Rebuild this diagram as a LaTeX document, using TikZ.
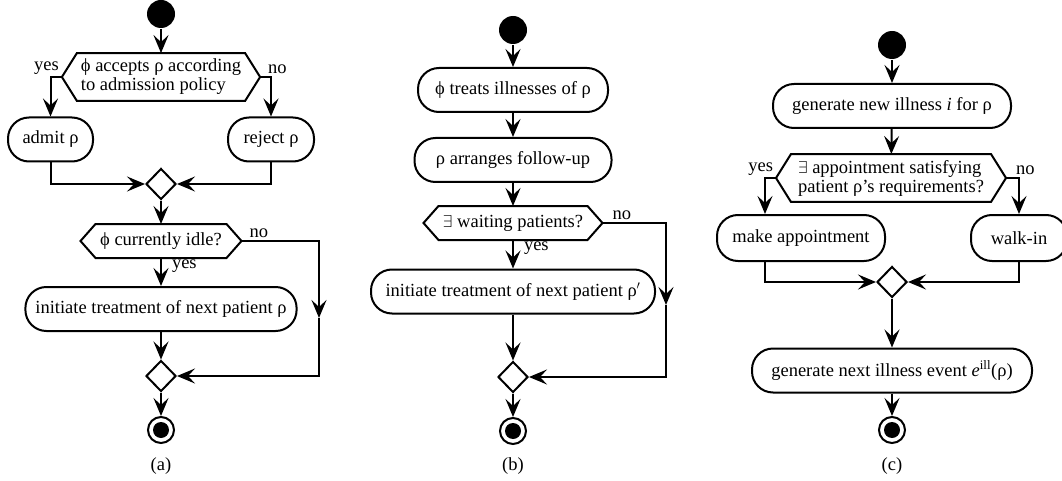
\documentclass[tikz,border=0pt]{standalone}
\usepackage{fontspec}
\setmainfont{Liberation Serif}
\usetikzlibrary{shapes.geometric,arrows.meta}

\tikzset{
    action/.style={rectangle, draw, rounded corners=21pt, minimum height=44pt, inner xsep=10pt},
    choice/.style={rectangle, align=left, minimum height=32pt, inner xsep=18pt, inner ysep=5pt},
    merge/.style={diamond, draw, minimum width=30pt, minimum height=31pt, inner sep=0pt},
    initial/.style={circle, fill, minimum size=28pt, inner sep=0pt},
    final/.style={circle, draw, minimum size=26pt, inner sep=0pt,
        path picture={\fill (path picture bounding box.center) circle (8pt);}},
    lbl/.style={inner sep=2pt},
}
\newcommand{\hexframe}[1]{\draw (#1.west) -- ([xshift=15pt]#1.north west) -- ([xshift=-15pt]#1.north east) -- (#1.east) -- ([xshift=-15pt]#1.south east) -- ([xshift=15pt]#1.south west) -- cycle;}

\begin{document}
\begin{tikzpicture}[x=1pt, y=-1pt, line width=2pt, >={Stealth[length=18pt, width=15pt, inset=7pt]}, font=\fontsize{18.5}{19}\selectfont]
    \useasboundingbox (0,0) rectangle (1062,481);

    \node[initial] (a0) at (161,14) {};
    \node[choice, minimum width=195pt] (a1) at (161,77) {ϕ accepts ρ according\\to admission policy};
    \hexframe{a1}
    \node[action, minimum width=85pt] (a2) at (50.5,139.5) {admit ρ};
    \node[action, minimum width=86pt] (a3) at (271,139.5) {reject ρ};
    \node[merge] (a4) at (161,184) {};
    \node[choice, minimum width=159pt] (a5) at (161,241) {ϕ currently idle?};
    \hexframe{a5}
    \node[action, minimum width=271pt] (a6) at (161,309) {initiate treatment of next patient ρ};
    \node[merge] (a7) at (161,376) {};
    \node[final] (a8) at (161,430) {};
    \coordinate (a9) at (319,318);
    \node (capa) at (161,466) {(a)};
    \draw[->] (a0) -- (a1);
    \draw[->] (a1.west) -| (a2.north) node[lbl, pos=0, above left] {yes};
    \draw[->] (a1.east) -| (a3.north) node[lbl, pos=0, above right, xshift=5pt] {no};
    \draw[->] (a2.south) |- (a4.west);
    \draw[->] (a3.south) |- (a4.east);
    \draw[->] (a4) -- (a5);
    \draw[->] (a5) -- (a6) node[lbl, pos=0.3, right=8pt] {yes};
    \draw[->] (a5.east) -| (a9) node[lbl, pos=0, above right, xshift=5pt] {no};
    \draw[->] (a9) |- (a7.east);
    \draw[->] (a6) -- (a7);
    \draw[->] (a7) -- (a8);

    \node[initial] (b0) at (513,30) {};
    \node[action, minimum width=190pt] (b1) at (513,90) {ϕ treats illnesses of ρ};
    \node[action, minimum width=197pt] (b2) at (513,160) {ρ arranges follow-up};
    \node[choice, minimum width=177pt] (b3) at (513,223) {$\exists$ waiting patients?};
    \hexframe{b3}
    \node[action, minimum width=284pt] (b4) at (513,291.5) {initiate treatment of next patient ρ$'$};
    \node[merge] (b5) at (513,377) {};
    \node[final] (b6) at (513,431) {};
    \coordinate (b9) at (666,305);
    \node (capb) at (513,466) {(b)};
    \draw[->] (b0) -- (b1);
    \draw[->] (b1) -- (b2);
    \draw[->] (b2) -- (b3);
    \draw[->] (b3) -- (b4) node[lbl, pos=0.3, right=8pt] {yes};
    \draw[->] (b3.east) -| (b9) node[lbl, pos=0, above right, xshift=7pt] {no};
    \draw[->] (b9) |- (b5.east);
    \draw[->] (b4) -- (b5);
    \draw[->] (b5) -- (b6);

    \node[initial] (c0) at (892,45) {};
    \node[action, minimum width=238pt] (c1) at (892,106) {generate new illness \textit{i} for ρ};
    \node[choice, minimum width=228pt] (c2) at (891,178) {$\exists$ appointment satisfying\\patient ρ’s requirements?};
    \hexframe{c2}
    \node[action, minimum width=168pt, minimum height=46pt] (c3) at (801,238) {make appointment};
    \node[action, minimum width=96pt, minimum height=46pt] (c4) at (1019,238) {walk-in};
    \node[merge] (c5) at (892,282) {};
    \node[action, minimum width=280pt] (c6) at (892,370.5) {generate next illness event \textit{e}\textsuperscript{ill}(ρ)};
    \node[final] (c7) at (892,430) {};
    \node (capc) at (892,466) {(c)};
    \draw[->] (c0) -- (c1);
    \draw[->] (c1) -- (c2);
    \draw[->] (c2.west) -| ([xshift=-36pt]c3.north) node[lbl, pos=0, above left] {yes};
    \draw[->] (c2.east) -| (c4.north) node[lbl, pos=0, above right, xshift=7pt] {no};
    \draw[->] ([xshift=-36pt]c3.south) |- (c5.west);
    \draw[->] (c4.south) |- (c5.east);
    \draw[->] (c5) -- (c6);
    \draw[->] (c6) -- (c7);
\end{tikzpicture}
\end{document}
